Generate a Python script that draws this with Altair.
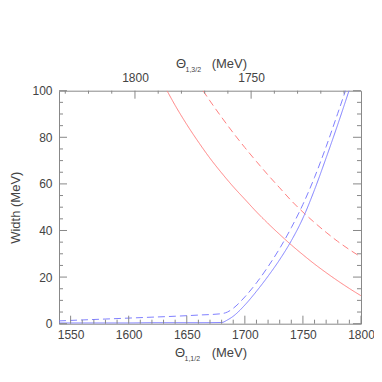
import altair as alt
import pandas as pd

# ---- data ----
theta_red_solid = [1633, 1640, 1650, 1660, 1670, 1680, 1690, 1700, 1710, 1720, 1730,
                   1740, 1750, 1760, 1770, 1780, 1790, 1800]
width_red_solid = [100, 93.7, 85.5, 78.0, 71.0, 64.7, 58.8, 53.4, 48.0, 43.0, 38.3,
                   33.8, 29.6, 25.6, 21.9, 18.4, 15.1, 12.0]

theta_red_dashed = [1664, 1670, 1680, 1690, 1700, 1710, 1720, 1730, 1740, 1750, 1760,
                    1770, 1780, 1790, 1800]
width_red_dashed = [100, 95.6, 88.6, 81.9, 75.6, 69.6, 63.8, 58.3, 52.8, 47.9, 43.4,
                    39.2, 35.3, 31.8, 28.6]

theta_blue_solid = [1540, 1560, 1580, 1600, 1620, 1640, 1660, 1680, 1685, 1690, 1700,
                    1710, 1720, 1730, 1740, 1750, 1760, 1770, 1780, 1790]
width_blue_solid = [0.3, 0.3, 0.3, 0.3, 0.4, 0.4, 0.4, 0.5, 1.6, 3.2, 8.0,
                    13.9, 20.4, 27.5, 35.6, 45.3, 57.5, 71.2, 85.5, 100.5]

theta_blue_dashed = [1540, 1560, 1580, 1600, 1620, 1640, 1660, 1680, 1685, 1690, 1700,
                     1710, 1720, 1730, 1740, 1750, 1760, 1770, 1780, 1787]
width_blue_dashed = [1.2, 1.6, 2.0, 2.4, 2.8, 3.2, 3.7, 4.3, 5.0, 6.6, 11.5,
                     17.5, 24.5, 32.3, 41.2, 51.2, 62.8, 76.0, 90.3, 100.5]

series_names = ["red_solid", "red_dashed", "blue_solid", "blue_dashed"]
series_colors = ["#ff8080", "#ff8080", "#8080ff", "#8080ff"]
series_dashes = [[1, 0], [7, 4], [1, 0], [7, 4]]

x_bottom_major = [1550, 1600, 1650, 1700, 1750, 1800]
x_bottom_minor = [v for v in range(1550, 1800, 10) if v % 50 != 0]
y_major = [0, 20, 40, 60, 80, 100]
y_minor = [v for v in range(5, 100, 5) if v % 20 != 0]
x_top_major = [1750, 1800]
x_top_minor = [v for v in range(1710, 1831, 10) if v % 50 != 0]

rows = []
for name, th, wd in zip(series_names,
                        [theta_red_solid, theta_red_dashed, theta_blue_solid, theta_blue_dashed],
                        [width_red_solid, width_red_dashed, width_blue_solid, width_blue_dashed]):
    for t, v in zip(th, wd):
        rows.append({"theta": t, "width": v, "series": name})
df = pd.DataFrame(rows)
top_df = pd.DataFrame({"top": x_top_major})

# ---- layout / style ----
W, H = 302, 233
FONT = "Liberation Sans"
TXT = "#444444"
AX = "#888888"
MAJ, MIN = 8, 4

x_scale = alt.Scale(domain=[1540, 1800], zero=False, nice=False)
y_scale = alt.Scale(domain=[0, 100], zero=False, nice=False)
top_scale = alt.Scale(domain=[1702.7, 1832.7], reverse=True, zero=False, nice=False)

label_kw = dict(labelFont=FONT, labelFontSize=12, labelColor=TXT, grid=False,
                domain=False, format="d", labelFlush=False, labelOverlap=False)

lines = alt.Chart(df).mark_line(strokeWidth=1, clip=True, interpolate="monotone").encode(
    x=alt.X("theta:Q", scale=x_scale,
            axis=alt.Axis(orient="bottom", values=x_bottom_major, ticks=False, tickSize=0,
                          labelPadding=6, title=None, **label_kw)),
    y=alt.Y("width:Q", scale=y_scale,
            axis=alt.Axis(orient="left", values=y_major, ticks=False, tickSize=0,
                          labelPadding=7, title="Width (MeV)", titleFont=FONT,
                          titleFontSize=13, titleFontWeight="normal", titleColor=TXT,
                          titleAngle=270, titleX=-39.5, titleY=H / 2,
                          titleAlign="center", titleBaseline="alphabetic", **label_kw)),
    color=alt.Color("series:N", scale=alt.Scale(domain=series_names, range=series_colors),
                    legend=None),
    strokeDash=alt.StrokeDash("series:N",
                              scale=alt.Scale(domain=series_names, range=series_dashes),
                              legend=None),
)


# inward tick marks, placed through the chart's scales
def xticks(vals, scale, size, at_top):
    y0 = 0 if at_top else H
    y1 = size if at_top else H - size
    return alt.Chart(pd.DataFrame({"v": vals})).mark_rule(color=AX, strokeWidth=1).encode(
        x=alt.X("v:Q", scale=scale, axis=None), y=alt.value(y0), y2=alt.value(y1))


def yticks(vals, size, at_right):
    x0 = W if at_right else 0
    x1 = W - size if at_right else size
    return alt.Chart(pd.DataFrame({"v": vals})).mark_rule(color=AX, strokeWidth=1).encode(
        y=alt.Y("v:Q", scale=y_scale, axis=None), x=alt.value(x0), x2=alt.value(x1))


ticks = [
    xticks(x_bottom_minor, x_scale, MIN, False),
    xticks(x_bottom_major, x_scale, MAJ, False),
    xticks(x_top_minor, top_scale, 3, True),
    xticks(x_top_major, top_scale, MAJ, True),
    yticks(y_minor, MIN, False),
    yticks(y_major, MAJ, False),
    yticks(y_minor, MIN, True),
    yticks(y_major, MAJ, True),
]

top_labels = alt.Chart(top_df).mark_point(opacity=0).encode(
    x=alt.X("top:Q", scale=top_scale,
            axis=alt.Axis(orient="top", values=x_top_major, ticks=False, tickSize=0,
                          labelPadding=6, title=None, **label_kw)),
)


def txt(s, x, y, size):
    return alt.Chart(pd.DataFrame({"s": [s]})).mark_text(
        align="left", baseline="alphabetic", fontSize=size, font=FONT, color=TXT
    ).encode(text="s:N", x=alt.value(x), y=alt.value(y))


bottom_title = [txt("Θ", 116, H + 33, 13), txt("1,1/2", 125.5, H + 37.5, 7),
                txt("(MeV)", 152.7, H + 33, 13)]
top_title = [txt("Θ", 117, -22.4, 13), txt("1,3/2", 126.5, -18.5, 7),
             txt("(MeV)", 152.7, -22.4, 13)]

chart = alt.layer(
    lines, *ticks, top_labels, *bottom_title, *top_title
).resolve_scale(
    x="independent"
).resolve_axis(
    x="independent", y="independent"
).properties(
    width=W, height=H,
    autosize=alt.AutoSizeParams(type="none"),
    padding={"left": 51, "top": 82.7, "right": 13, "bottom": 45},
).configure_view(
    stroke=AX, strokeWidth=1
)

chart.save("out.html", embed_options={"renderer": "svg", "actions": False})
